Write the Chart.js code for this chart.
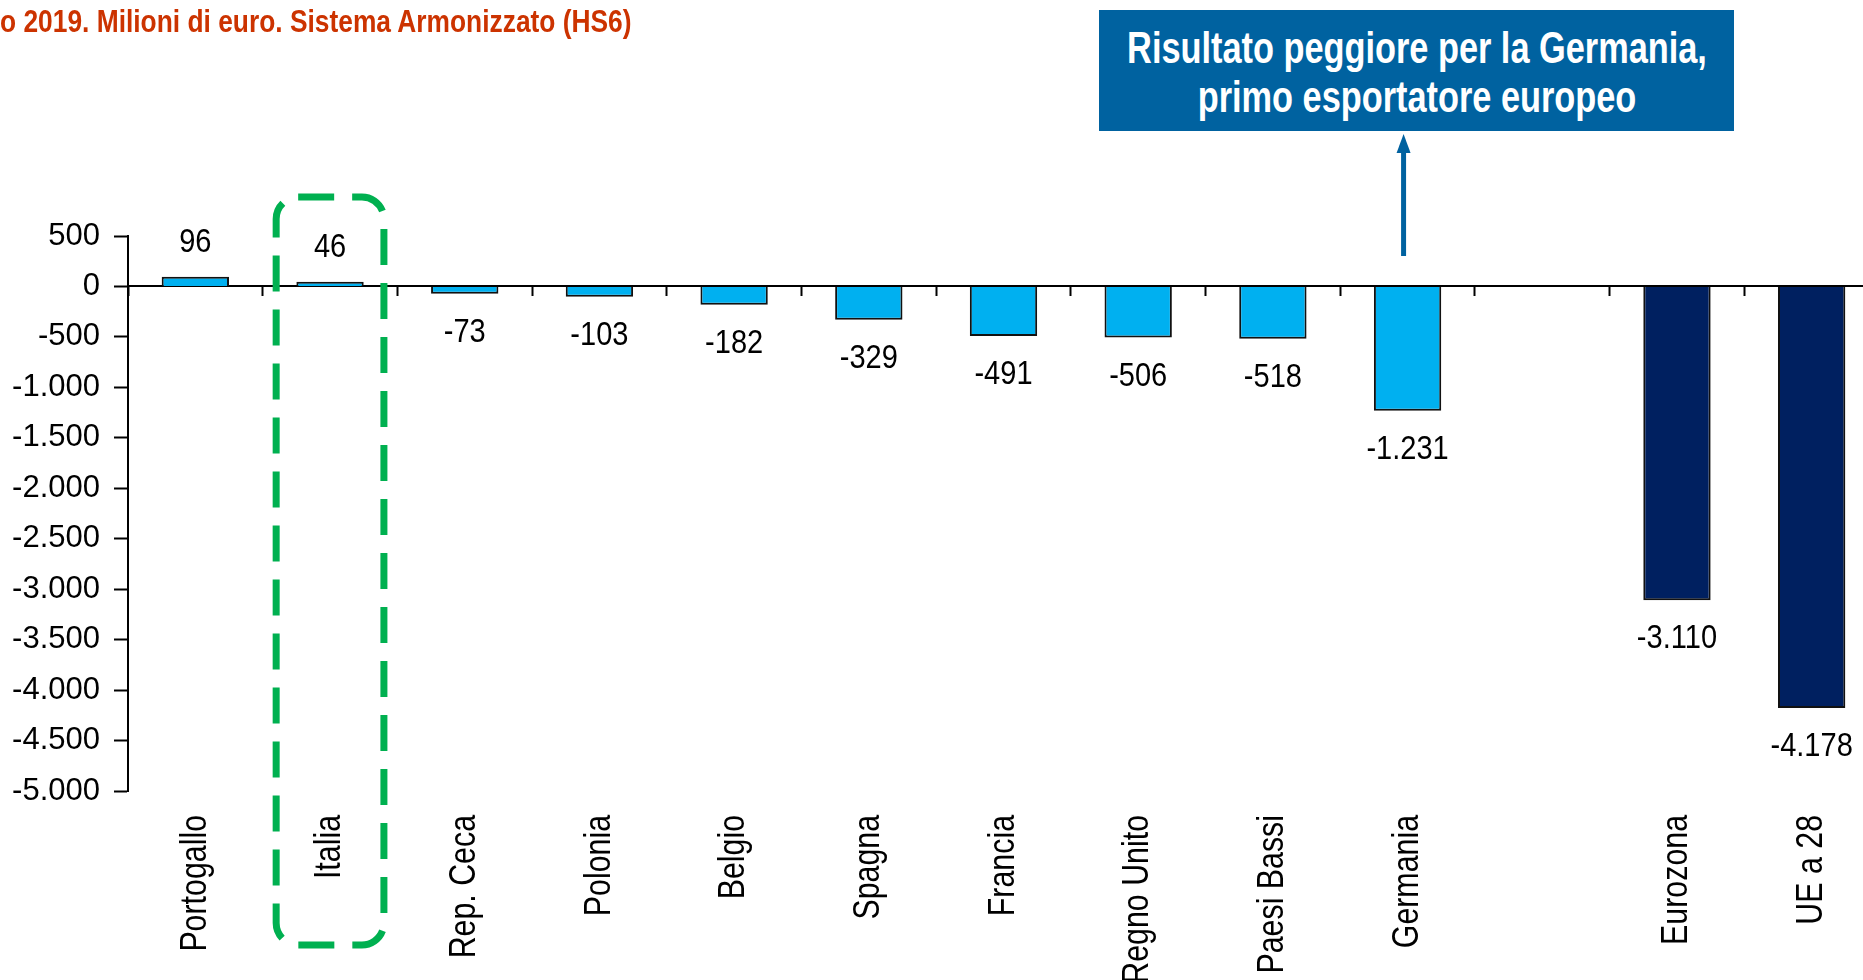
<!DOCTYPE html>
<html lang="it">
<head>
<meta charset="utf-8">
<title>Saldo commerciale 2019</title>
<script src="https://cdn.jsdelivr.net/npm/chart.js@4.4.1/dist/chart.umd.min.js"></script>
<style>
  html, body { margin: 0; padding: 0; background: #fff; overflow: hidden; }
  body { width: 1863px; height: 980px; position: relative; }
  #wrap { position: absolute; left: 0; top: 0; width: 1880px; height: 980px; }
  .subtitle {
    position: absolute; left: 0; top: 4px; white-space: nowrap;
    font: bold 31px/36px "Liberation Sans", Arial, sans-serif;
    color: #CC3300;
    transform: scaleX(0.85); transform-origin: 0 0;
  }
  .callout {
    position: absolute; left: 1099px; top: 10px; width: 635px; height: 121px;
    box-sizing: border-box; padding-top: 13px;
    background: #0062A0; color: #fff;
  }
  .callout span {
    display: block; width: max-content; white-space: nowrap;
    position: relative; left: 50%;
    font: bold 44px/49px "Liberation Sans", Arial, sans-serif;
    transform: translateX(-50%) scaleX(0.78); transform-origin: 50% 0;
  }
</style>
</head>
<body>
<div id="wrap"><canvas id="saldoChart"></canvas></div>
<div class="subtitle">o 2019. Milioni di euro. Sistema Armonizzato (HS6)</div>
<div class="callout"><span>Risultato peggiore per la Germania,</span><span>primo esportatore europeo</span></div>
<script>
  const categories = ['Portogallo', 'Italia', 'Rep. Ceca', 'Polonia', 'Belgio', 'Spagna', 'Francia',
    'Regno Unito', 'Paesi Bassi', 'Germania', '', 'Eurozona', 'UE a 28'];
  const values = [96, 46, -73, -103, -182, -329, -491, -506, -518, -1231, null, -3110, -4178];
  const aggregates = ['Eurozona', 'UE a 28'];
  const yTicks = [500, 0, -500, -1000, -1500, -2000, -2500, -3000, -3500, -4000, -4500, -5000];

  const regular = '"Liberation Sans", Arial, sans-serif';

  // 1234 -> "1.234"
  function fmt(v) {
    const s = String(Math.abs(v)).replace(/\B(?=(\d{3})+(?!\d))/g, '.');
    return (v < 0 ? '-' : '') + s;
  }

  // condensed category names under the plot, rotated to read upwards
  const categoryLabels = {
    id: 'categoryLabels',
    afterDraw(chart) {
      const ctx = chart.ctx;
      const xs = chart.scales.x;
      ctx.save();
      ctx.font = '37px ' + regular;
      ctx.fillStyle = '#000';
      ctx.textAlign = 'right';
      ctx.textBaseline = 'middle';
      categories.forEach((c, i) => {
        if (!c) return;
        ctx.save();
        ctx.translate(xs.getPixelForValue(i), chart.chartArea.bottom + 24);
        ctx.rotate(-Math.PI / 2);
        ctx.scale(0.82, 1);
        ctx.fillText(c, 0, 0);
        ctx.restore();
      });
      ctx.restore();
    }
  };

  // value labels, highlight frame round Italia, arrow to the callout
  const overlay = {
    id: 'overlay',
    afterDatasetsDraw(chart) {
      const ctx = chart.ctx;
      const xs = chart.scales.x;
      const meta = chart.getDatasetMeta(0);
      ctx.save();
      ctx.font = '33px ' + regular;
      ctx.fillStyle = '#000';
      ctx.textAlign = 'center';
      ctx.textBaseline = 'middle';
      meta.data.forEach((bar, i) => {
        const v = values[i];
        if (v === null) return;
        ctx.save();
        ctx.translate(bar.x, v >= 0 ? bar.y - 34 : bar.y + 39);
        ctx.scale(0.88, 1);
        ctx.fillText(fmt(v), 0, 0);
        ctx.restore();
      });

      const step = xs.width / categories.length;
      const cx = xs.getPixelForValue(categories.indexOf('Italia'));
      ctx.strokeStyle = '#00B050';
      ctx.lineWidth = 7;
      ctx.setLineDash([36, 18]);
      ctx.beginPath();
      ctx.roundRect(cx - step * 0.4, 197, step * 0.8, 748, 22);
      ctx.stroke();
      ctx.setLineDash([]);

      const ax = meta.data[categories.indexOf('Germania')].x - 4;
      ctx.strokeStyle = '#0062A0';
      ctx.fillStyle = '#0062A0';
      ctx.lineWidth = 5;
      ctx.beginPath();
      ctx.moveTo(ax, 256);
      ctx.lineTo(ax, 150);
      ctx.stroke();
      ctx.beginPath();
      ctx.moveTo(ax, 134);
      ctx.lineTo(ax - 7, 153);
      ctx.lineTo(ax + 7, 153);
      ctx.closePath();
      ctx.fill();
      ctx.restore();
    }
  };

  new Chart(document.getElementById('saldoChart'), {
    type: 'bar',
    data: {
      labels: categories,
      datasets: [{
        data: values,
        backgroundColor: categories.map(c => aggregates.includes(c) ? '#002060' : '#00B0F0'),
        borderColor: '#111',
        borderWidth: 2,
        barPercentage: 0.5,
        categoryPercentage: 1
      }]
    },
    options: {
      responsive: true,
      maintainAspectRatio: false,
      animation: false,
      layout: { padding: { top: 236, left: 0, right: 1, bottom: 0 } },
      plugins: { legend: { display: false }, tooltip: { enabled: false } },
      scales: {
        x: {
          type: 'category',
          offset: true,
          grid: { display: false, drawTicks: false },
          border: { display: false },
          ticks: { display: false },
          afterFit(scale) { scale.height = 189; }
        },
        x2: {
          type: 'category',
          position: { y: 0 },
          offset: true,
          grid: { offset: true, drawOnChartArea: false, tickLength: 9, tickColor: '#000', tickWidth: 2 },
          border: { color: '#000', width: 2 },
          ticks: { display: false }
        },
        y: {
          min: yTicks[yTicks.length - 1],
          max: yTicks[0],
          afterBuildTicks(scale) { scale.ticks = yTicks.map(v => ({ value: v })); },
          grid: { drawOnChartArea: false, tickLength: 14, tickColor: '#000', tickWidth: 2 },
          border: { color: '#000', width: 2 },
          ticks: {
            padding: 14,
            color: '#000',
            font: { family: regular, size: 31 },
            callback: v => fmt(v)
          },
          afterFit(scale) { scale.width = 128; }
        }
      }
    },
    plugins: [overlay, categoryLabels]
  });
</script>
</body>
</html>
